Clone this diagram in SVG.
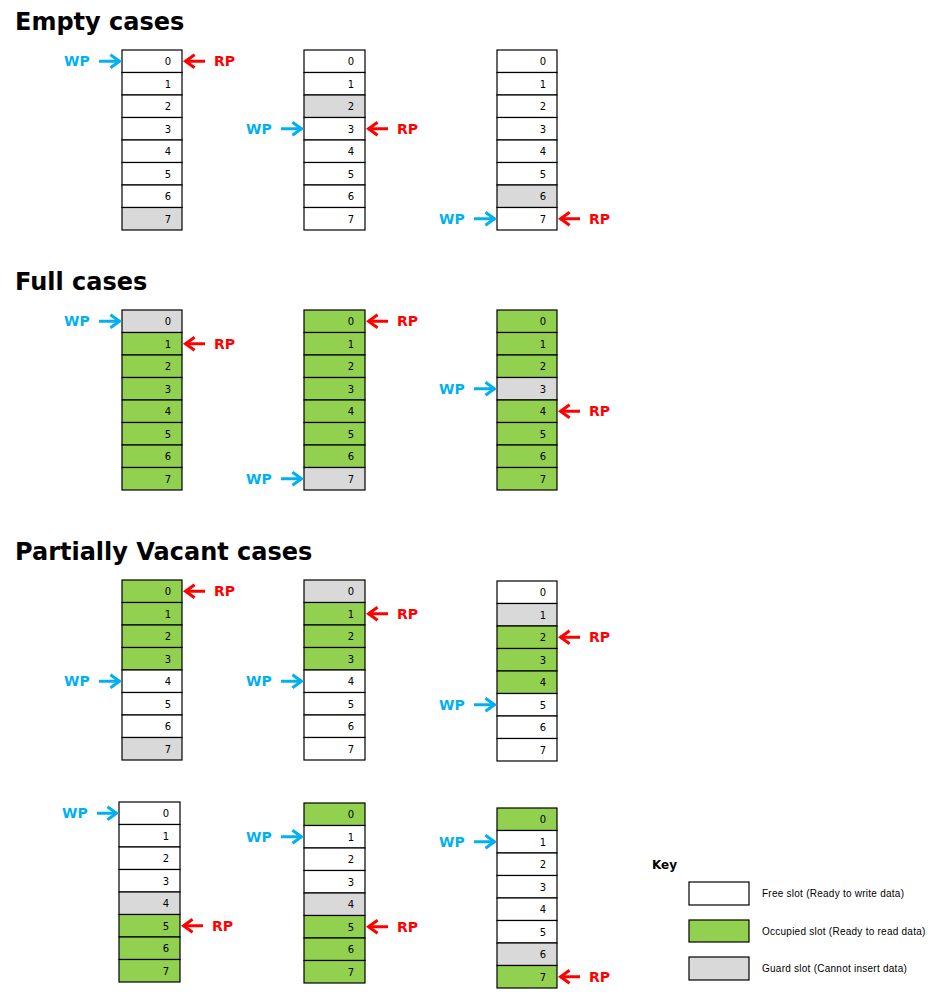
<svg xmlns="http://www.w3.org/2000/svg" width="937" height="994" viewBox="0 0 937 994">
<style>
  .bg{fill:#ffffff}
  .h{font-family:"DejaVu Sans",Verdana,sans-serif;font-weight:bold;font-size:24px;fill:#000}
  .f{fill:#ffffff;stroke:#000;stroke-width:1.2}
  .o{fill:#92D050;stroke:#000;stroke-width:1.2}
  .g{fill:#D9D9D9;stroke:#000;stroke-width:1.2}
  .n{font-family:"DejaVu Sans",Verdana,sans-serif;font-size:10px;fill:#000;text-anchor:middle}
  .wp{font-family:"DejaVu Sans",Verdana,sans-serif;font-weight:bold;font-size:14px;fill:#00B0F0}
  .rp{font-family:"DejaVu Sans",Verdana,sans-serif;font-weight:bold;font-size:14px;fill:#FF0000}
  .wa{stroke:#00B0F0;stroke-width:3;fill:none}
  .ra{stroke:#FF0000;stroke-width:3;fill:none}
  .kt{font-family:"Liberation Sans",Arial,sans-serif;font-size:10px;letter-spacing:0.25px;fill:#000}
  .kh{font-family:"DejaVu Sans",Verdana,sans-serif;font-weight:bold;font-size:12px;fill:#000}
</style>
<defs>
  <marker id="wh" viewBox="0 -8 14 16" markerWidth="14" markerHeight="16" refX="10.56" refY="0" orient="auto" markerUnits="userSpaceOnUse">
    <path d="M1,-6.5 L10,0 L1,6.5" fill="none" stroke="#00B0F0" stroke-width="3" stroke-linejoin="miter"/>
  </marker>
  <marker id="rh" viewBox="0 -8 14 16" markerWidth="14" markerHeight="16" refX="10.56" refY="0" orient="auto" markerUnits="userSpaceOnUse">
    <path d="M1,-6.5 L10,0 L1,6.5" fill="none" stroke="#FF0000" stroke-width="3" stroke-linejoin="miter"/>
  </marker>
</defs>
<rect class="bg" x="0" y="0" width="937" height="994"/>

<g id="headings">
  <text class="h" x="15" y="30">Empty cases</text>
  <text class="h" x="15" y="290">Full cases</text>
  <text class="h" x="15" y="560">Partially Vacant cases</text>
</g>

<!-- Empty cases -->
<g id="empty-1" transform="translate(122,50)">
  <rect class="f" x="0" y="0" width="60" height="22.5"/>
  <rect class="f" x="0" y="22.5" width="60" height="22.5"/>
  <rect class="f" x="0" y="45" width="60" height="22.5"/>
  <rect class="f" x="0" y="67.5" width="60" height="22.5"/>
  <rect class="f" x="0" y="90" width="60" height="22.5"/>
  <rect class="f" x="0" y="112.5" width="60" height="22.5"/>
  <rect class="f" x="0" y="135" width="60" height="22.5"/>
  <rect class="g" x="0" y="157.5" width="60" height="22.5"/>
  <text class="n" x="46" y="15">0</text><text class="n" x="46" y="37.5">1</text><text class="n" x="46" y="60">2</text><text class="n" x="46" y="82.5">3</text><text class="n" x="46" y="105">4</text><text class="n" x="46" y="127.5">5</text><text class="n" x="46" y="150">6</text><text class="n" x="46" y="172.5">7</text>
</g>
<g id="empty-2" transform="translate(304,50)">
  <rect class="f" x="0" y="0" width="61" height="22.5"/>
  <rect class="f" x="0" y="22.5" width="61" height="22.5"/>
  <rect class="g" x="0" y="45" width="61" height="22.5"/>
  <rect class="f" x="0" y="67.5" width="61" height="22.5"/>
  <rect class="f" x="0" y="90" width="61" height="22.5"/>
  <rect class="f" x="0" y="112.5" width="61" height="22.5"/>
  <rect class="f" x="0" y="135" width="61" height="22.5"/>
  <rect class="f" x="0" y="157.5" width="61" height="22.5"/>
  <text class="n" x="47" y="15">0</text><text class="n" x="47" y="37.5">1</text><text class="n" x="47" y="60">2</text><text class="n" x="47" y="82.5">3</text><text class="n" x="47" y="105">4</text><text class="n" x="47" y="127.5">5</text><text class="n" x="47" y="150">6</text><text class="n" x="47" y="172.5">7</text>
</g>
<g id="empty-3" transform="translate(497,50)">
  <rect class="f" x="0" y="0" width="60" height="22.5"/>
  <rect class="f" x="0" y="22.5" width="60" height="22.5"/>
  <rect class="f" x="0" y="45" width="60" height="22.5"/>
  <rect class="f" x="0" y="67.5" width="60" height="22.5"/>
  <rect class="f" x="0" y="90" width="60" height="22.5"/>
  <rect class="f" x="0" y="112.5" width="60" height="22.5"/>
  <rect class="g" x="0" y="135" width="60" height="22.5"/>
  <rect class="f" x="0" y="157.5" width="60" height="22.5"/>
  <text class="n" x="46" y="15">0</text><text class="n" x="46" y="37.5">1</text><text class="n" x="46" y="60">2</text><text class="n" x="46" y="82.5">3</text><text class="n" x="46" y="105">4</text><text class="n" x="46" y="127.5">5</text><text class="n" x="46" y="150">6</text><text class="n" x="46" y="172.5">7</text>
</g>

<!-- Full cases -->
<g id="full-1" transform="translate(122,310)">
  <rect class="g" x="0" y="0" width="60" height="22.5"/>
  <rect class="o" x="0" y="22.5" width="60" height="22.5"/>
  <rect class="o" x="0" y="45" width="60" height="22.5"/>
  <rect class="o" x="0" y="67.5" width="60" height="22.5"/>
  <rect class="o" x="0" y="90" width="60" height="22.5"/>
  <rect class="o" x="0" y="112.5" width="60" height="22.5"/>
  <rect class="o" x="0" y="135" width="60" height="22.5"/>
  <rect class="o" x="0" y="157.5" width="60" height="22.5"/>
  <text class="n" x="46" y="15">0</text><text class="n" x="46" y="37.5">1</text><text class="n" x="46" y="60">2</text><text class="n" x="46" y="82.5">3</text><text class="n" x="46" y="105">4</text><text class="n" x="46" y="127.5">5</text><text class="n" x="46" y="150">6</text><text class="n" x="46" y="172.5">7</text>
</g>
<g id="full-2" transform="translate(304,310)">
  <rect class="o" x="0" y="0" width="61" height="22.5"/>
  <rect class="o" x="0" y="22.5" width="61" height="22.5"/>
  <rect class="o" x="0" y="45" width="61" height="22.5"/>
  <rect class="o" x="0" y="67.5" width="61" height="22.5"/>
  <rect class="o" x="0" y="90" width="61" height="22.5"/>
  <rect class="o" x="0" y="112.5" width="61" height="22.5"/>
  <rect class="o" x="0" y="135" width="61" height="22.5"/>
  <rect class="g" x="0" y="157.5" width="61" height="22.5"/>
  <text class="n" x="47" y="15">0</text><text class="n" x="47" y="37.5">1</text><text class="n" x="47" y="60">2</text><text class="n" x="47" y="82.5">3</text><text class="n" x="47" y="105">4</text><text class="n" x="47" y="127.5">5</text><text class="n" x="47" y="150">6</text><text class="n" x="47" y="172.5">7</text>
</g>
<g id="full-3" transform="translate(497,310)">
  <rect class="o" x="0" y="0" width="60" height="22.5"/>
  <rect class="o" x="0" y="22.5" width="60" height="22.5"/>
  <rect class="o" x="0" y="45" width="60" height="22.5"/>
  <rect class="g" x="0" y="67.5" width="60" height="22.5"/>
  <rect class="o" x="0" y="90" width="60" height="22.5"/>
  <rect class="o" x="0" y="112.5" width="60" height="22.5"/>
  <rect class="o" x="0" y="135" width="60" height="22.5"/>
  <rect class="o" x="0" y="157.5" width="60" height="22.5"/>
  <text class="n" x="46" y="15">0</text><text class="n" x="46" y="37.5">1</text><text class="n" x="46" y="60">2</text><text class="n" x="46" y="82.5">3</text><text class="n" x="46" y="105">4</text><text class="n" x="46" y="127.5">5</text><text class="n" x="46" y="150">6</text><text class="n" x="46" y="172.5">7</text>
</g>

<!-- Partially vacant, row 1 -->
<g id="partial-1" transform="translate(122,580)">
  <rect class="o" x="0" y="0" width="60" height="22.5"/>
  <rect class="o" x="0" y="22.5" width="60" height="22.5"/>
  <rect class="o" x="0" y="45" width="60" height="22.5"/>
  <rect class="o" x="0" y="67.5" width="60" height="22.5"/>
  <rect class="f" x="0" y="90" width="60" height="22.5"/>
  <rect class="f" x="0" y="112.5" width="60" height="22.5"/>
  <rect class="f" x="0" y="135" width="60" height="22.5"/>
  <rect class="g" x="0" y="157.5" width="60" height="22.5"/>
  <text class="n" x="46" y="15">0</text><text class="n" x="46" y="37.5">1</text><text class="n" x="46" y="60">2</text><text class="n" x="46" y="82.5">3</text><text class="n" x="46" y="105">4</text><text class="n" x="46" y="127.5">5</text><text class="n" x="46" y="150">6</text><text class="n" x="46" y="172.5">7</text>
</g>
<g id="partial-2" transform="translate(304,580)">
  <rect class="g" x="0" y="0" width="61" height="22.5"/>
  <rect class="o" x="0" y="22.5" width="61" height="22.5"/>
  <rect class="o" x="0" y="45" width="61" height="22.5"/>
  <rect class="o" x="0" y="67.5" width="61" height="22.5"/>
  <rect class="f" x="0" y="90" width="61" height="22.5"/>
  <rect class="f" x="0" y="112.5" width="61" height="22.5"/>
  <rect class="f" x="0" y="135" width="61" height="22.5"/>
  <rect class="f" x="0" y="157.5" width="61" height="22.5"/>
  <text class="n" x="47" y="15">0</text><text class="n" x="47" y="37.5">1</text><text class="n" x="47" y="60">2</text><text class="n" x="47" y="82.5">3</text><text class="n" x="47" y="105">4</text><text class="n" x="47" y="127.5">5</text><text class="n" x="47" y="150">6</text><text class="n" x="47" y="172.5">7</text>
</g>
<g id="partial-3" transform="translate(497,581)">
  <rect class="f" x="0" y="0" width="60" height="22.5"/>
  <rect class="g" x="0" y="22.5" width="60" height="22.5"/>
  <rect class="o" x="0" y="45" width="60" height="22.5"/>
  <rect class="o" x="0" y="67.5" width="60" height="22.5"/>
  <rect class="o" x="0" y="90" width="60" height="22.5"/>
  <rect class="f" x="0" y="112.5" width="60" height="22.5"/>
  <rect class="f" x="0" y="135" width="60" height="22.5"/>
  <rect class="f" x="0" y="157.5" width="60" height="22.5"/>
  <text class="n" x="46" y="15">0</text><text class="n" x="46" y="37.5">1</text><text class="n" x="46" y="60">2</text><text class="n" x="46" y="82.5">3</text><text class="n" x="46" y="105">4</text><text class="n" x="46" y="127.5">5</text><text class="n" x="46" y="150">6</text><text class="n" x="46" y="172.5">7</text>
</g>

<!-- Partially vacant, row 2 -->
<g id="partial-4" transform="translate(119,802)">
  <rect class="f" x="0" y="0" width="61" height="22.5"/>
  <rect class="f" x="0" y="22.5" width="61" height="22.5"/>
  <rect class="f" x="0" y="45" width="61" height="22.5"/>
  <rect class="f" x="0" y="67.5" width="61" height="22.5"/>
  <rect class="g" x="0" y="90" width="61" height="22.5"/>
  <rect class="o" x="0" y="112.5" width="61" height="22.5"/>
  <rect class="o" x="0" y="135" width="61" height="22.5"/>
  <rect class="o" x="0" y="157.5" width="61" height="22.5"/>
  <text class="n" x="47" y="15">0</text><text class="n" x="47" y="37.5">1</text><text class="n" x="47" y="60">2</text><text class="n" x="47" y="82.5">3</text><text class="n" x="47" y="105">4</text><text class="n" x="47" y="127.5">5</text><text class="n" x="47" y="150">6</text><text class="n" x="47" y="172.5">7</text>
</g>
<g id="partial-5" transform="translate(304,803)">
  <rect class="o" x="0" y="0" width="61" height="22.5"/>
  <rect class="f" x="0" y="22.5" width="61" height="22.5"/>
  <rect class="f" x="0" y="45" width="61" height="22.5"/>
  <rect class="f" x="0" y="67.5" width="61" height="22.5"/>
  <rect class="g" x="0" y="90" width="61" height="22.5"/>
  <rect class="o" x="0" y="112.5" width="61" height="22.5"/>
  <rect class="o" x="0" y="135" width="61" height="22.5"/>
  <rect class="o" x="0" y="157.5" width="61" height="22.5"/>
  <text class="n" x="47" y="15">0</text><text class="n" x="47" y="37.5">1</text><text class="n" x="47" y="60">2</text><text class="n" x="47" y="82.5">3</text><text class="n" x="47" y="105">4</text><text class="n" x="47" y="127.5">5</text><text class="n" x="47" y="150">6</text><text class="n" x="47" y="172.5">7</text>
</g>
<g id="partial-6" transform="translate(497,808)">
  <rect class="o" x="0" y="0" width="60" height="22.5"/>
  <rect class="f" x="0" y="22.5" width="60" height="22.5"/>
  <rect class="f" x="0" y="45" width="60" height="22.5"/>
  <rect class="f" x="0" y="67.5" width="60" height="22.5"/>
  <rect class="f" x="0" y="90" width="60" height="22.5"/>
  <rect class="f" x="0" y="112.5" width="60" height="22.5"/>
  <rect class="g" x="0" y="135" width="60" height="22.5"/>
  <rect class="o" x="0" y="157.5" width="60" height="22.5"/>
  <text class="n" x="46" y="15">0</text><text class="n" x="46" y="37.5">1</text><text class="n" x="46" y="60">2</text><text class="n" x="46" y="82.5">3</text><text class="n" x="46" y="105">4</text><text class="n" x="46" y="127.5">5</text><text class="n" x="46" y="150">6</text><text class="n" x="46" y="172.5">7</text>
</g>

<!-- Pointer labels -->
<g id="pointer-labels">
  <text class="wp" x="64" y="66.25">WP</text><text class="rp" x="214" y="66.25">RP</text>
  <text class="wp" x="246" y="133.75">WP</text><text class="rp" x="397" y="133.75">RP</text>
  <text class="wp" x="439" y="223.75">WP</text><text class="rp" x="589" y="223.75">RP</text>

  <text class="wp" x="64" y="326.25">WP</text><text class="rp" x="214" y="348.75">RP</text>
  <text class="rp" x="397" y="326.25">RP</text><text class="wp" x="246" y="483.75">WP</text>
  <text class="wp" x="439" y="393.75">WP</text><text class="rp" x="589" y="416.25">RP</text>

  <text class="rp" x="214" y="596.25">RP</text><text class="wp" x="64" y="686.25">WP</text>
  <text class="rp" x="397" y="618.75">RP</text><text class="wp" x="246" y="686.25">WP</text>
  <text class="rp" x="589" y="642.25">RP</text><text class="wp" x="439" y="709.75">WP</text>

  <text class="wp" x="62" y="818.25">WP</text><text class="rp" x="212" y="930.75">RP</text>
  <text class="wp" x="246" y="841.75">WP</text><text class="rp" x="397" y="931.75">RP</text>
  <text class="wp" x="439" y="846.75">WP</text><text class="rp" x="589" y="981.75">RP</text>
</g>

<!-- Connectors (pointer arrows) -->
<g id="connectors">
  <line class="wa" x1="99" y1="61.25" x2="120" y2="61.25" marker-end="url(#wh)"/>
  <line class="ra" x1="205" y1="61.25" x2="185" y2="61.25" marker-end="url(#rh)"/>
  <line class="wa" x1="281" y1="128.75" x2="302" y2="128.75" marker-end="url(#wh)"/>
  <line class="ra" x1="388" y1="128.75" x2="368" y2="128.75" marker-end="url(#rh)"/>
  <line class="wa" x1="474" y1="218.75" x2="495" y2="218.75" marker-end="url(#wh)"/>
  <line class="ra" x1="580" y1="218.75" x2="560" y2="218.75" marker-end="url(#rh)"/>

  <line class="wa" x1="99" y1="321.25" x2="120" y2="321.25" marker-end="url(#wh)"/>
  <line class="ra" x1="205" y1="343.75" x2="185" y2="343.75" marker-end="url(#rh)"/>
  <line class="ra" x1="388" y1="321.25" x2="368" y2="321.25" marker-end="url(#rh)"/>
  <line class="wa" x1="281" y1="478.75" x2="302" y2="478.75" marker-end="url(#wh)"/>
  <line class="wa" x1="474" y1="388.75" x2="495" y2="388.75" marker-end="url(#wh)"/>
  <line class="ra" x1="580" y1="411.25" x2="560" y2="411.25" marker-end="url(#rh)"/>

  <line class="ra" x1="205" y1="591.25" x2="185" y2="591.25" marker-end="url(#rh)"/>
  <line class="wa" x1="99" y1="681.25" x2="120" y2="681.25" marker-end="url(#wh)"/>
  <line class="ra" x1="388" y1="613.75" x2="368" y2="613.75" marker-end="url(#rh)"/>
  <line class="wa" x1="281" y1="681.25" x2="302" y2="681.25" marker-end="url(#wh)"/>
  <line class="ra" x1="580" y1="637.25" x2="560" y2="637.25" marker-end="url(#rh)"/>
  <line class="wa" x1="474" y1="704.75" x2="495" y2="704.75" marker-end="url(#wh)"/>

  <line class="wa" x1="97" y1="813.25" x2="117" y2="813.25" marker-end="url(#wh)"/>
  <line class="ra" x1="203" y1="925.75" x2="183" y2="925.75" marker-end="url(#rh)"/>
  <line class="wa" x1="281" y1="836.75" x2="302" y2="836.75" marker-end="url(#wh)"/>
  <line class="ra" x1="388" y1="926.75" x2="368" y2="926.75" marker-end="url(#rh)"/>
  <line class="wa" x1="474" y1="841.75" x2="495" y2="841.75" marker-end="url(#wh)"/>
  <line class="ra" x1="580" y1="976.75" x2="560" y2="976.75" marker-end="url(#rh)"/>
</g>

<!-- Key -->
<g id="key">
  <text class="kh" x="652" y="869">Key</text>
  <rect class="f" x="689" y="882" width="60" height="23"/>
  <text class="kt" x="762" y="897">Free slot (Ready to write data)</text>
  <rect class="o" x="689" y="920" width="60" height="22"/>
  <text class="kt" x="762" y="934.5">Occupied slot (Ready to read data)</text>
  <rect class="g" x="689" y="957" width="60" height="23"/>
  <text class="kt" x="762" y="972">Guard slot (Cannot insert data)</text>
</g>
</svg>
